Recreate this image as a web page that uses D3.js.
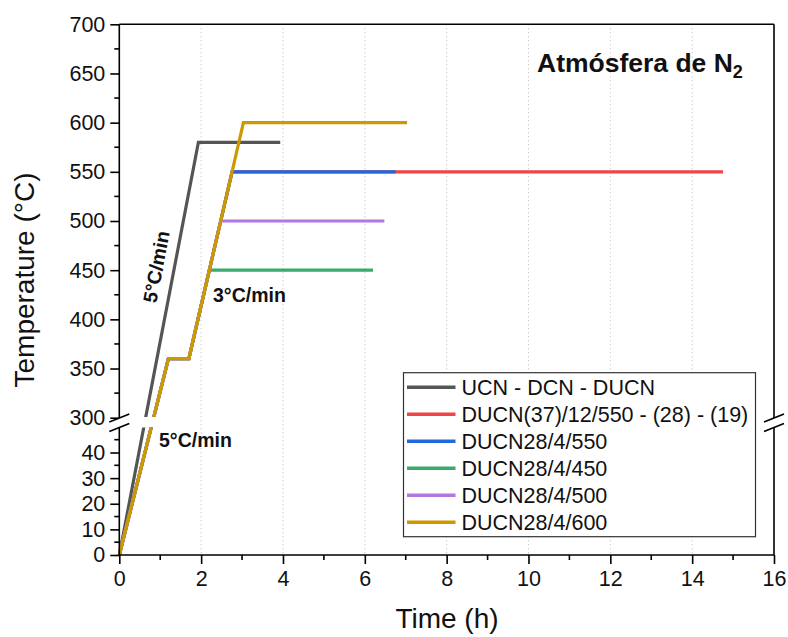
<!DOCTYPE html>
<html>
<head>
<meta charset="utf-8">
<script src="https://cdn.jsdelivr.net/npm/d3@7"></script>
<style>
  body { margin: 0; background: #fff; }
  text { font-family: Arial, "Liberation Sans", sans-serif; fill: #111; }
</style>
</head>
<body>
<svg id="chart" width="788" height="637"></svg>
<script>
// data
var seriesNames = ['UCN - DCN - DUCN', 'DUCN(37)/12/550 - (28) - (19)', 'DUCN28/4/550',
                   'DUCN28/4/450', 'DUCN28/4/500', 'DUCN28/4/600'];
var seriesColors = ['#555555', '#ef4545', '#2368da', '#3aab6b', '#b476e2', '#cc9900'];

var timeUCN = [0, 1.933, 3.933];
var tempUCN = [0, 580, 580];
var time37 = [0, 1.2, 1.7, 2.756, 14.756];
var temp37 = [0, 360, 360, 550, 550];
var time550 = [0, 1.2, 1.7, 2.756, 6.756];
var temp550 = [0, 360, 360, 550, 550];
var time450 = [0, 1.2, 1.7, 2.2, 6.2];
var temp450 = [0, 360, 360, 450, 450];
var time500 = [0, 1.2, 1.7, 2.478, 6.478];
var temp500 = [0, 360, 360, 500, 500];
var time600 = [0, 1.2, 1.7, 3.033, 7.033];
var temp600 = [0, 360, 360, 600, 600];

var seriesTimes = [timeUCN, time37, time550, time450, time500, time600];
var seriesTemps = [tempUCN, temp37, temp550, temp450, temp500, temp600];

var xTicks = [0, 2, 4, 6, 8, 10, 12, 14, 16];
var yTicksLow = [0, 10, 20, 30, 40];
var yTicksHigh = [300, 350, 400, 450, 500, 550, 600, 650, 700];

function main() {
  var svg = d3.select('#chart');
  var left = 119.3, right = 774, top = 24.3, bottom = 555;
  var breakTop = 417, breakBot = 427.5;

  var x = d3.scaleLinear().domain([0, 16]).range([left, right]);
  // broken y axis: 0..48 below the break, 300..700 above it
  var y = d3.scaleLinear().domain([0, 48, 300, 700]).range([bottom, 432, 417.7, top]);

  // dotted vertical grid
  svg.append('g').selectAll('line')
    .data(xTicks.filter(function(d){ return d > 0 && d < 16; }))
    .enter().append('line')
    .attr('x1', function(d){ return x(d); }).attr('x2', function(d){ return x(d); })
    .attr('y1', top).attr('y2', bottom)
    .attr('stroke', '#b8b8b8').attr('stroke-width', 1)
    .attr('stroke-dasharray', '1,3');

  // clip paths for the lines, leaving a gap at the break
  var defs = svg.append('defs');
  defs.append('clipPath').attr('id', 'clipHigh').append('rect')
    .attr('x', left).attr('y', top - 5).attr('width', right - left).attr('height', breakTop - top + 5);
  defs.append('clipPath').attr('id', 'clipLow').append('rect')
    .attr('x', left - 5).attr('y', breakBot).attr('width', right - left).attr('height', bottom - breakBot + 5);

  var line = d3.line()
    .x(function(d){ return x(d[0]); })
    .y(function(d){ return y(d[1]); });

  ['clipHigh', 'clipLow'].forEach(function(c) {
    var g = svg.append('g').attr('clip-path', 'url(#' + c + ')');
    seriesNames.forEach(function(name, i) {
      var pts = seriesTimes[i].map(function(t, j){ return [t, seriesTemps[i][j]]; });
      g.append('path')
        .attr('d', line(pts))
        .attr('fill', 'none')
        .attr('stroke', seriesColors[i])
        .attr('stroke-width', 3.2)
        .attr('stroke-linejoin', 'miter');
    });
  });

  // frame
  var ax = svg.append('g').attr('stroke', '#000').attr('stroke-width', 1.6);
  ax.append('line').attr('x1', left).attr('x2', right).attr('y1', top).attr('y2', top);
  ax.append('line').attr('x1', left).attr('x2', right).attr('y1', bottom).attr('y2', bottom);
  [left, right].forEach(function(xx) {
    ax.append('line').attr('x1', xx).attr('x2', xx).attr('y1', top).attr('y2', breakTop + 1);
    ax.append('line').attr('x1', xx).attr('x2', xx).attr('y1', breakBot).attr('y2', bottom);
    ax.append('line').attr('x1', xx - 10).attr('x2', xx + 10).attr('y1', breakTop + 5).attr('y2', breakTop - 3);
    ax.append('line').attr('x1', xx - 10).attr('x2', xx + 10).attr('y1', breakBot + 4).attr('y2', breakBot - 4);
  });

  // x axis
  var xAxis = d3.axisBottom(x).tickValues(xTicks).tickSize(9).tickPadding(6);
  var gx = svg.append('g').attr('transform', 'translate(0,' + bottom + ')').call(xAxis);
  var xMinor = d3.range(1, 16, 2);
  gx.selectAll('.minor').data(xMinor).enter().append('line')
    .attr('x1', function(d){ return x(d); }).attr('x2', function(d){ return x(d); })
    .attr('y1', 0).attr('y2', 5).attr('stroke', '#000').attr('stroke-width', 1.6);

  // y axis, two segments
  var yLow = d3.scaleLinear().domain([0, 48]).range([bottom, 432]);
  var yHigh = d3.scaleLinear().domain([300, 700]).range([417.7, top]);
  var gyl = svg.append('g').attr('transform', 'translate(' + left + ',0)')
    .call(d3.axisLeft(yLow).tickValues(yTicksLow).tickSize(9).tickPadding(5));
  var gyh = svg.append('g').attr('transform', 'translate(' + left + ',0)')
    .call(d3.axisLeft(yHigh).tickValues(yTicksHigh).tickSize(9).tickPadding(5));
  gyl.selectAll('.minor').data([5, 15, 25, 35, 45]).enter().append('line')
    .attr('x1', -5).attr('x2', 0)
    .attr('y1', function(d){ return yLow(d); }).attr('y2', function(d){ return yLow(d); })
    .attr('stroke', '#000').attr('stroke-width', 1.6);
  gyh.selectAll('.minor').data(d3.range(325, 700, 50)).enter().append('line')
    .attr('x1', -5).attr('x2', 0)
    .attr('y1', function(d){ return yHigh(d); }).attr('y2', function(d){ return yHigh(d); })
    .attr('stroke', '#000').attr('stroke-width', 1.6);

  [gx, gyl, gyh].forEach(function(g) {
    g.select('.domain').remove();
    g.selectAll('.tick line').attr('stroke', '#000').attr('stroke-width', 1.6);
    g.selectAll('.tick text').attr('font-size', 21.5).attr('fill', '#111')
      .attr('font-family', 'Arial, "Liberation Sans", sans-serif');
  });
  gx.selectAll('.tick text').attr('dy', '0.73em');

  // axis titles
  svg.append('text')
    .attr('transform', 'translate(34,280) rotate(-90)')
    .attr('text-anchor', 'middle').attr('font-size', 28)
    .text('Temperature (°C)');
  svg.append('text')
    .attr('x', 447).attr('y', 628)
    .attr('text-anchor', 'middle').attr('font-size', 28)
    .text('Time (h)');

  // annotations
  var title = svg.append('text')
    .attr('x', 537).attr('y', 72)
    .attr('font-size', 26.5).attr('font-weight', 'bold');
  title.append('tspan').text('Atmósfera de N');
  title.append('tspan').attr('font-size', 18).attr('dy', 6).text('2');

  svg.append('text')
    .attr('transform', 'translate(163,268) rotate(-79.2)')
    .attr('text-anchor', 'middle').attr('font-size', 19.5).attr('font-weight', 'bold')
    .text('5°C/min');
  svg.append('text')
    .attr('x', 213).attr('y', 302)
    .attr('font-size', 19.5).attr('font-weight', 'bold')
    .text('3°C/min');
  svg.append('text')
    .attr('x', 159).attr('y', 447)
    .attr('font-size', 19.5).attr('font-weight', 'bold')
    .text('5°C/min');

  // legend
  var lg = svg.append('g');
  lg.append('rect')
    .attr('x', 403.5).attr('y', 372.7).attr('width', 352).attr('height', 164)
    .attr('fill', '#fff').attr('stroke', '#333').attr('stroke-width', 1.2);
  var row = lg.selectAll('.row').data(seriesNames).enter().append('g')
    .attr('transform', function(d, i){ return 'translate(0,' + (387.3 + 27 * i) + ')'; });
  row.append('line')
    .attr('x1', 407).attr('x2', 455.5).attr('y1', 0).attr('y2', 0)
    .attr('stroke', function(d, i){ return seriesColors[i]; })
    .attr('stroke-width', 3.6);
  row.append('text')
    .attr('x', 461.5).attr('y', 0).attr('dy', '0.36em')
    .attr('font-size', 21.5)
    .text(function(d){ return d; });
}
main();
</script>
</body>
</html>
